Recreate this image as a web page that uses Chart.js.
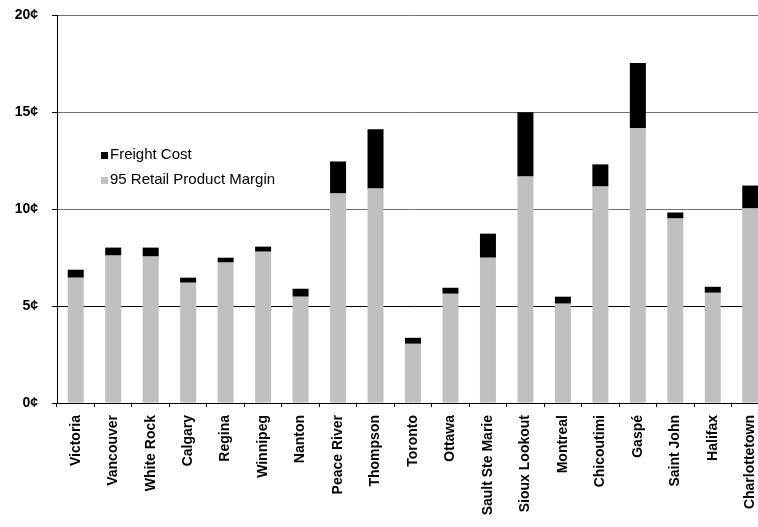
<!DOCTYPE html>
<html>
<head>
<meta charset="utf-8">
<script src="https://cdn.jsdelivr.net/npm/chart.js@4"></script>
<style>
  html, body { margin: 0; padding: 0; background: #fff; overflow: hidden; }
  #wrap { width: 770px; height: 527px; }
</style>
</head>
<body>
<div id="wrap"><canvas id="prix" width="770" height="527"></canvas></div>
<script>

const villes = ['Victoria', 'Vancouver', 'White Rock', 'Calgary', 'Regina', 'Winnipeg', 'Nanton',
    'Peace River', 'Thompson', 'Toronto', 'Ottawa', 'Sault Ste Marie', 'Sioux Lookout', 'Montreal',
    'Chicoutimi', 'Gaspé', 'Saint John', 'Halifax', 'Charlottetown'];

const marge = [6.46, 7.60, 7.55, 6.20, 7.24, 7.80, 5.48, 10.80, 11.06, 3.05, 5.63, 7.49, 11.68, 5.12,
    11.16, 14.16, 9.51, 5.68, 10.03];

const transport = [0.41, 0.41, 0.46, 0.26, 0.25, 0.26, 0.41, 1.65, 3.05, 0.31, 0.31, 1.24, 3.31, 0.36,
    1.14, 3.36, 0.31, 0.31, 1.18];

const graduations = [0, 5, 10, 15, 20];

const police = 'Arial, "Liberation Sans", sans-serif';

// legende dessinee dans la zone du graphique
const legendeInterne = {
    id: 'legendeInterne',
    afterDraw(chart) {
        const ctx = chart.ctx;
        const ordre = [1, 0];
        ctx.save();
        ctx.font = '15px ' + police;
        ctx.textBaseline = 'alphabetic';
        ordre.forEach((i, n) => {
            const ds = chart.data.datasets[i];
            const y = 152 + n * 25;
            ctx.fillStyle = ds.backgroundColor;
            ctx.fillRect(101, y, 7, 7);
            ctx.fillStyle = '#000';
            ctx.fillText(ds.label, 110, y + 7);
        });
        ctx.restore();
    }
};

new Chart(document.querySelector('#prix'), {

    type: 'bar',
    data: {
        labels: villes,
        datasets: [
            {
                label: '95 Retail Product Margin',
                data: marge,
                backgroundColor: '#c0c0c0',
                barPercentage: 0.427,
                categoryPercentage: 1
            },
            {
                label: 'Freight Cost',
                data: transport,
                backgroundColor: '#000000',
                barPercentage: 0.427,
                categoryPercentage: 1
            }
        ]
    },
    options: {
        responsive: false,
        animation: false,
        layout: {
            padding: { top: 15, left: 0, right: 1, bottom: 0 }
        },
        plugins: {
            legend: { display: false },
            tooltip: { enabled: false }
        },
        scales: {
            x: {
                stacked: true,
                grid: {
                    offset: true,
                    drawOnChartArea: false,
                    tickLength: 4,
                    tickColor: '#000'
                },
                border: { color: '#000', width: 1 },
                ticks: {
                    autoSkip: false,
                    minRotation: 90,
                    maxRotation: 90,
                    padding: 8,
                    color: '#000',
                    font: { family: police, size: 14, weight: 'bold' }
                },
                afterFit(scale) {
                    scale.height = 124;
                    scale.paddingLeft = 0;
                    scale.paddingRight = 0;
                }
            },
            y: {
                stacked: true,
                min: 0,
                max: 20,
                afterBuildTicks(scale) {
                    scale.ticks = graduations.map(v => ({ value: v }));
                },
                grid: {
                    tickLength: 5,
                    tickColor: '#000',
                    color: (c) => c.tick && c.tick.value === 5 ? '#000' : '#707070'
                },
                border: { color: '#000', width: 1 },
                ticks: {
                    padding: 14,
                    color: '#000',
                    font: { family: police, size: 14, weight: 'bold' },
                    callback: (v) => v + '¢'
                },
                afterFit(scale) {
                    scale.width = 57;
                    scale.paddingTop = 0;
                    scale.paddingBottom = 0;
                }
            }
        }
    },
    plugins: [legendeInterne]

});

</script>
</body>
</html>
